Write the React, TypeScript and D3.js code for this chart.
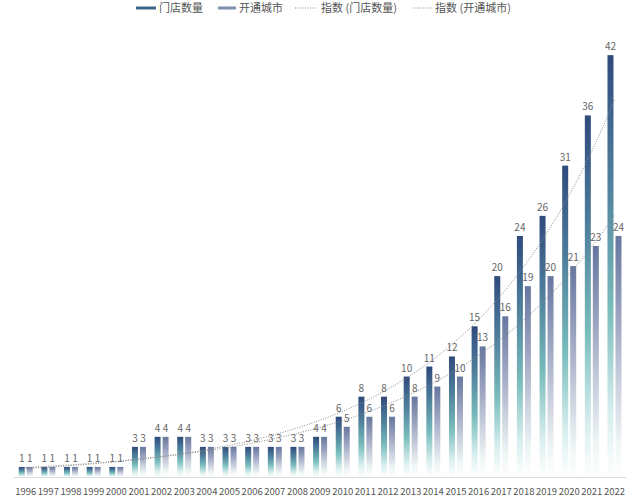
import * as d3 from "d3";
import { useEffect, useRef } from "react";

const years = d3.range(1996, 2023).map(String);
const stores = [1, 1, 1, 1, 1, 3, 4, 4, 3, 3, 3, 3, 3, 4, 6, 8, 8, 10, 11, 12, 15, 20, 24, 26, 31, 36, 42];
const cities = [1, 1, 1, 1, 1, 3, 4, 4, 3, 3, 3, 3, 3, 4, 5, 6, 6, 8, 9, 10, 13, 16, 19, 20, 21, 23, 24];
const seriesNames = ["门店数量", "开通城市"];
const trendNames = ["指数 (门店数量)", "指数 (开通城市)"];

const W = 640;
const H = 497;
const FONT = "'Noto Sans CJK SC', 'Noto Sans', sans-serif";

// excel style exponential trend: least squares on ln(y)
const expFit = (vals: number[]) => {
  const xs = vals.map((_d, i) => i + 1);
  const ly = vals.map((v) => Math.log(v));
  const mx = d3.mean(xs) as number;
  const my = d3.mean(ly) as number;
  let sxy = 0;
  let sxx = 0;
  xs.forEach((x, i) => {
    sxy += (x - mx) * (ly[i] - my);
    sxx += (x - mx) * (x - mx);
  });
  const b = sxy / sxx;
  const a = Math.exp(my - b * mx);
  return (x: number) => a * Math.exp(b * x);
};

const App = () => {
  const svgRef = useRef(null);

  useEffect(() => {
    document.body.style.margin = "0";
    const svg = d3.select(svgRef.current);
    svg.selectAll("*").remove();
    svg.attr("width", W).attr("height", H).style("display", "block");

    const defs = svg.append("defs");
    const g1 = defs.append("linearGradient").attr("id", "grad1").attr("x1", 0).attr("y1", 0).attr("x2", 0).attr("y2", 1);
    [
      [0, "#2f4a7c"],
      [0.3, "#4f7f9c"],
      [0.6, "#79bcbc"],
      [0.85, "#d8eeee"],
      [1, "#ffffff"],
    ].forEach(([o, c]) => g1.append("stop").attr("offset", o).attr("stop-color", c));
    const g2 = defs.append("linearGradient").attr("id", "grad2").attr("x1", 0).attr("y1", 0).attr("x2", 0).attr("y2", 1);
    [
      [0, "#66769f"],
      [0.35, "#9ea6c2"],
      [0.65, "#d0d6e1"],
      [0.85, "#edf5f5"],
      [1, "#ffffff"],
    ].forEach(([o, c]) => g2.append("stop").attr("offset", o).attr("stop-color", c));

    const x = d3.scaleBand<string>().domain(years).range([14.4, 625.8]);
    const y = d3.scaleLinear().domain([0, 45]).range([477, 25]);
    const bw = 6;
    const offs = [-7, 1];
    const data = [stores, cities];
    const grads = ["url(#grad1)", "url(#grad2)"];

    // axis line
    svg.append("line")
      .attr("x1", 14).attr("x2", 626)
      .attr("y1", y(0) + 0.5).attr("y2", y(0) + 0.5)
      .attr("stroke", "#dcdcdc");

    data.forEach((vals, si) => {
      const grp = svg.append("g");
      grp.selectAll("rect")
        .data(vals)
        .join("rect")
        .attr("x", (_d, i) => (x(years[i]) as number) + x.bandwidth() / 2 + offs[si])
        .attr("y", (d) => y(d))
        .attr("width", bw)
        .attr("height", (d) => y(0) - y(d))
        .attr("fill", grads[si]);
    });

    // trend lines
    const xc = (i: number) => (x(years[0]) as number) + x.bandwidth() / 2 + (i - 1) * x.step();
    data.forEach((vals) => {
      const f = expFit(vals);
      const pts = d3.range(1, vals.length + 0.001, 0.2).map((t) => [xc(t), y(f(t))] as [number, number]);
      svg.append("path")
        .attr("d", d3.line()(pts))
        .attr("fill", "none")
        .attr("stroke", "#8a8a8a")
        .attr("stroke-width", 1)
        .attr("stroke-dasharray", "1,1.5");
    });

    // value labels
    data.forEach((vals, si) => {
      svg.append("g")
        .selectAll("text")
        .data(vals)
        .join("text")
        .attr("x", (_d, i) => (x(years[i]) as number) + x.bandwidth() / 2 + offs[si] + bw / 2)
        .attr("y", (d) => y(d) - 5)
        .attr("text-anchor", "middle")
        .attr("font-family", FONT)
        .attr("font-size", 10)
        .attr("fill", "#666")
        .text((d) => d);
    });

    // year labels
    svg.append("g")
      .selectAll("text")
      .data(years)
      .join("text")
      .attr("x", (d) => (x(d) as number) + x.bandwidth() / 2)
      .attr("y", 495)
      .attr("text-anchor", "middle")
      .attr("font-family", FONT)
      .attr("font-size", 9.5)
      .attr("fill", "#555")
      .text((d) => d);

    // legend
    const leg = svg.append("g").attr("font-family", FONT).attr("font-size", 11).attr("fill", "#555");
    const items = [
      { x0: 136, x1: 156, tx: 159, label: seriesNames[0], kind: "bar1" },
      { x0: 218, x1: 236, tx: 239, label: seriesNames[1], kind: "bar2" },
      { x0: 295, x1: 317, tx: 321, label: trendNames[0], kind: "dot" },
      { x0: 413, x1: 432, tx: 435, label: trendNames[1], kind: "dot" },
    ];
    const ly = 8;
    items.forEach((it) => {
      if (it.kind === "dot") {
        leg.append("line")
          .attr("x1", it.x0).attr("x2", it.x1).attr("y1", ly).attr("y2", ly)
          .attr("stroke", "#8a8a8a").attr("stroke-dasharray", "1,1.5");
      } else {
        leg.append("rect")
          .attr("x", it.x0).attr("y", ly - 1.5).attr("width", it.x1 - it.x0).attr("height", 3)
          .attr("fill", it.kind === "bar1" ? "#3f6688" : "#7d8fae");
      }
      leg.append("text").attr("x", it.tx).attr("y", ly).attr("dy", "0.36em").text(it.label);
    });
  }, []);

  return <svg ref={svgRef}></svg>;
};

export default App;
